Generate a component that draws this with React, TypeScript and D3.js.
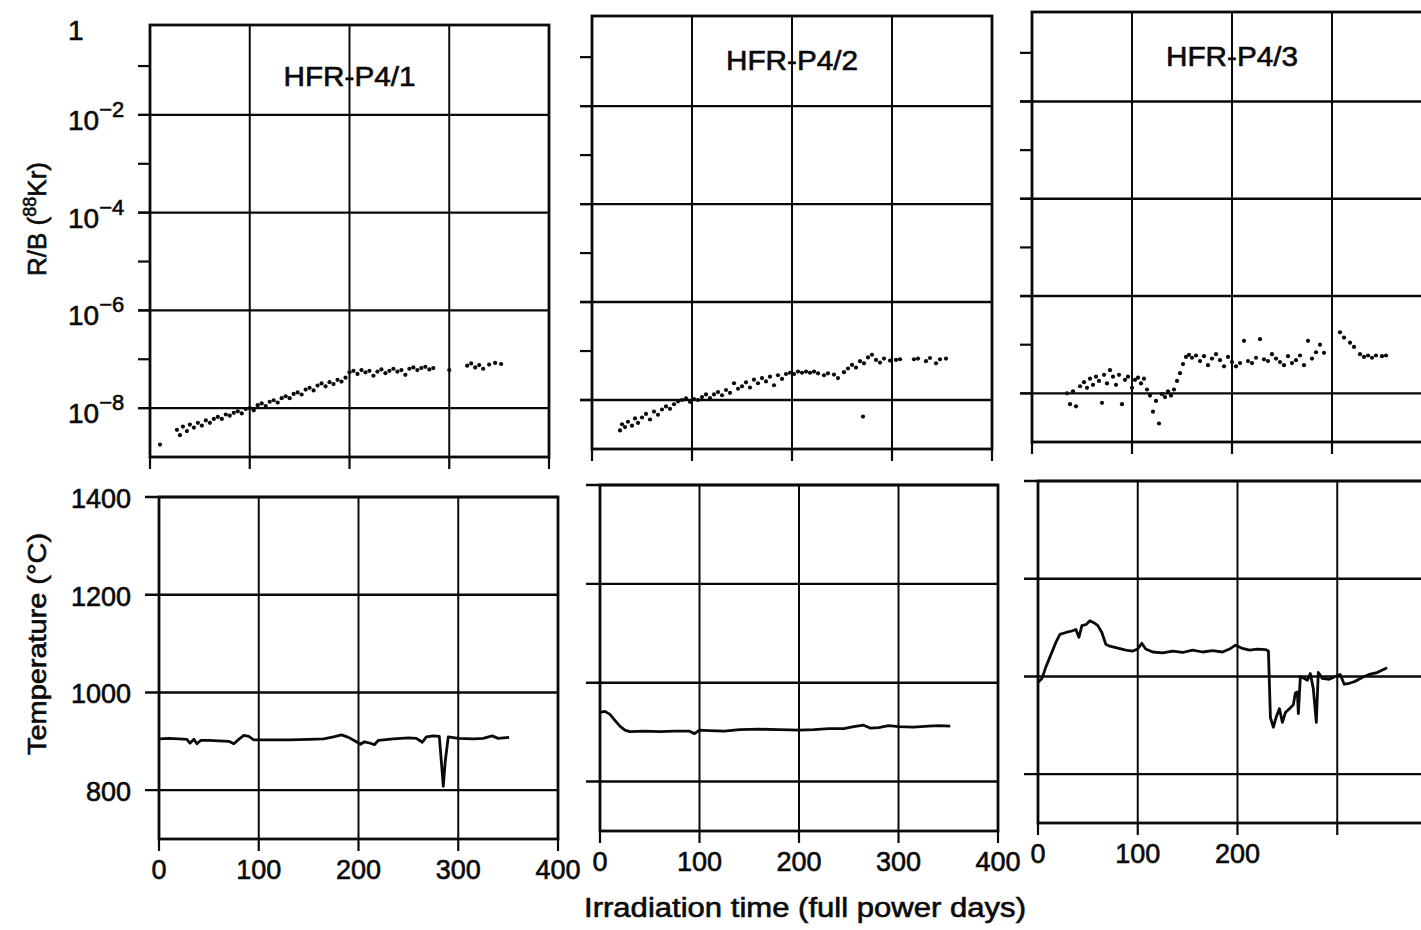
import React, { useRef, useEffect } from 'react';
import * as d3 from 'd3';

// fission gas release R/B (88Kr) vs irradiation time, one list per capsule
const release41: [number, number][] = [
  [10, 1.8e-9], [27, 3.6e-9], [30, 2.8e-9], [33, 4.2e-9], [37, 3.4e-9], [40, 4.6e-9], [44, 4e-9], [48, 5e-9],
  [52, 4.4e-9], [56, 5.6e-9], [60, 5e-9], [64, 6e-9], [68, 6.6e-9], [72, 6e-9], [76, 7.4e-9], [80, 7e-9],
  [84, 8e-9], [88, 8.6e-9], [92, 7.8e-9], [96, 9.6e-9], [100, 1.0e-8], [104, 9e-9], [108, 1.15e-8], [112, 1.25e-8],
  [116, 1.1e-8], [120, 1.35e-8], [124, 1.45e-8], [128, 1.3e-8], [132, 1.6e-8], [136, 1.75e-8], [140, 1.6e-8],
  [144, 1.95e-8], [148, 2.1e-8], [152, 1.9e-8], [156, 2.4e-8], [160, 2.6e-8], [164, 2.3e-8], [168, 2.9e-8],
  [172, 3.2e-8], [176, 2.8e-8], [180, 3.4e-8], [184, 3.1e-8], [188, 3.8e-8], [192, 3.5e-8], [196, 4.2e-8],
  [200, 5.4e-8], [204, 5.8e-8], [208, 5.0e-8], [212, 6.0e-8], [216, 5.4e-8], [220, 5.8e-8], [224, 4.6e-8],
  [228, 5.6e-8], [232, 6.2e-8], [236, 5.2e-8], [240, 5.8e-8], [244, 6.4e-8], [248, 5.6e-8], [252, 6.0e-8],
  [256, 4.8e-8], [260, 6.4e-8], [264, 6.8e-8], [268, 6.0e-8], [272, 6.6e-8], [276, 7.0e-8], [280, 6.2e-8],
  [284, 6.6e-8], [300, 6.0e-8], [318, 7.4e-8], [322, 8.2e-8], [326, 6.8e-8], [330, 7.6e-8], [334, 6.4e-8],
  [340, 7.8e-8], [346, 8.4e-8], [352, 8.0e-8],
];
const release42: [number, number][] = [
  [28, 2.4e-9], [30, 3.2e-9], [33, 2.8e-9], [36, 3.6e-9], [40, 3.0e-9], [43, 4.2e-9], [46, 3.4e-9], [50, 4.4e-9],
  [54, 5.2e-9], [58, 4.0e-9], [62, 5.8e-9], [66, 5.0e-9], [70, 6.4e-9], [74, 7.4e-9], [78, 6.6e-9], [82, 8.2e-9],
  [86, 9.4e-9], [90, 1.0e-8], [94, 1.08e-8], [98, 9.2e-9], [102, 1.05e-8], [106, 1.0e-8], [110, 1.15e-8],
  [114, 1.3e-8], [118, 1.1e-8], [122, 1.3e-8], [126, 1.45e-8], [130, 1.25e-8], [134, 1.6e-8], [138, 1.4e-8],
  [142, 2.2e-8], [146, 1.7e-8], [150, 1.9e-8], [154, 2.3e-8], [158, 1.8e-8], [162, 2.6e-8], [166, 2.2e-8],
  [170, 2.8e-8], [174, 2.4e-8], [178, 3.0e-8], [182, 2.0e-8], [186, 3.2e-8], [190, 2.7e-8], [194, 3.4e-8],
  [198, 3.6e-8], [202, 3.4e-8], [206, 3.8e-8], [210, 3.6e-8], [214, 3.8e-8], [218, 3.6e-8], [222, 3.8e-8],
  [226, 3.5e-8], [232, 3.2e-8], [236, 3.5e-8], [242, 3.3e-8], [246, 2.8e-8], [252, 3.7e-8], [256, 4.4e-8],
  [260, 5.2e-8], [264, 4.6e-8], [268, 6.2e-8], [271, 4.6e-9], [272, 5.6e-8], [276, 7.4e-8], [280, 8.4e-8],
  [284, 6.6e-8], [288, 5.8e-8], [292, 7.0e-8], [298, 6.4e-8], [304, 6.6e-8], [308, 6.8e-8], [322, 6.8e-8],
  [326, 7.0e-8], [334, 6.2e-8], [338, 7.2e-8], [344, 5.6e-8], [348, 6.8e-8], [354, 7.0e-8],
];
const release43: [number, number][] = [
  [35, 1.0e-8], [38, 6e-9], [41, 1.1e-8], [44, 5.4e-9], [48, 1.4e-8], [52, 1.7e-8], [55, 1.3e-8], [58, 2.0e-8],
  [61, 1.5e-8], [64, 2.2e-8], [67, 1.8e-8], [70, 6.4e-9], [72, 2.4e-8], [75, 1.6e-8], [78, 3.0e-8], [81, 2.2e-8],
  [84, 1.5e-8], [87, 2.4e-8], [90, 6e-9], [93, 1.9e-8], [96, 2.2e-8], [100, 1.3e-8], [103, 1.9e-8], [106, 2.1e-8],
  [109, 1.6e-8], [112, 2.0e-8], [115, 1.2e-8], [118, 9e-9], [121, 4.2e-9], [124, 7e-9], [127, 2.4e-9],
  [130, 9.6e-9], [133, 8.4e-9], [136, 1.1e-8], [139, 9e-9], [142, 1.2e-8], [145, 1.8e-8], [148, 2.6e-8],
  [151, 4e-8], [154, 5.6e-8], [157, 6.2e-8], [160, 5.4e-8], [164, 6e-8], [168, 4.6e-8], [172, 5.8e-8],
  [176, 3.8e-8], [180, 5.2e-8], [184, 6.4e-8], [188, 4.8e-8], [192, 3.6e-8], [196, 5.6e-8], [200, 4.4e-8],
  [204, 3.6e-8], [208, 4.2e-8], [212, 1.2e-7], [216, 4.6e-8], [220, 4.2e-8], [224, 5.4e-8], [228, 1.3e-7],
  [232, 5e-8], [236, 4.6e-8], [240, 6.4e-8], [244, 5.2e-8], [248, 4.4e-8], [252, 3.8e-8], [256, 5.8e-8],
  [260, 4.2e-8], [264, 4.8e-8], [268, 6e-8], [272, 3.8e-8], [276, 1.2e-7], [280, 5.2e-8], [284, 7e-8],
  [288, 1.0e-7], [292, 6.8e-8], [308, 1.8e-7], [312, 1.4e-7], [318, 1.1e-7], [322, 9e-8], [328, 6.4e-8],
  [332, 5.6e-8], [336, 6e-8], [340, 5.4e-8], [344, 6e-8], [350, 5.8e-8], [354, 6e-8],
];

// central temperature (°C) vs irradiation time
const temp41: [number, number][] = [
  [0, 905], [10, 906], [20, 905], [28, 904], [31, 896], [35, 904], [38, 895], [42, 902], [50, 902], [60, 901],
  [70, 900], [75, 895], [80, 904], [85, 912], [90, 910], [95, 903], [110, 903], [130, 903], [150, 904],
  [165, 905], [175, 909], [183, 913], [190, 908], [197, 900], [202, 894], [206, 899], [212, 896], [216, 893],
  [220, 902], [235, 905], [250, 907], [258, 906], [264, 898], [268, 909], [275, 911], [281, 910], [283, 860],
  [285, 808], [287, 860], [290, 909], [300, 906], [315, 905], [325, 906], [334, 911], [340, 906], [351, 908],
];
const temp42: [number, number][] = [
  [0, 940], [5, 942], [10, 936], [15, 924], [20, 912], [25, 904], [30, 901], [45, 902], [60, 901], [75, 902],
  [90, 902], [95, 897], [100, 904], [110, 903], [125, 902], [140, 905], [160, 906], [180, 905], [200, 904],
  [215, 905], [230, 907], [245, 907], [255, 911], [265, 914], [272, 908], [280, 909], [290, 913], [300, 911],
  [315, 910], [330, 912], [340, 913], [352, 912],
];
const temp43: [number, number][] = [
  [0, 988], [4, 996], [8, 1020], [12, 1040], [18, 1070], [22, 1086], [28, 1090], [34, 1093], [38, 1096],
  [41, 1080], [44, 1104], [48, 1106], [52, 1114], [56, 1110], [60, 1104], [64, 1090], [68, 1066], [72, 1062],
  [80, 1058], [88, 1054], [95, 1052], [100, 1056], [104, 1068], [108, 1056], [115, 1050], [125, 1048],
  [135, 1052], [145, 1049], [155, 1054], [165, 1050], [175, 1053], [185, 1050], [192, 1056], [198, 1064],
  [204, 1058], [212, 1054], [220, 1056], [228, 1055], [231, 1052], [233, 916], [236, 896], [239, 918],
  [242, 934], [245, 906], [248, 926], [252, 934], [256, 942], [258, 966], [260, 968], [261, 924], [263, 1000],
  [267, 996], [270, 992], [273, 1006], [276, 975], [279, 906], [281, 1008], [285, 996], [292, 994], [298, 1000],
  [303, 1004], [307, 984], [312, 986], [318, 990], [325, 998], [332, 1004], [340, 1008], [350, 1018],
];

const panelTitles = ['HFR-P4/1', 'HFR-P4/2', 'HFR-P4/3'];
const releaseSeries = [release41, release42, release43];
const tempSeries = [temp41, temp42, temp43];
const dayTicks = [0, 100, 200, 300, 400];
const dayTickLabels = [
  ['0', '100', '200', '300', '400'],
  ['0', '100', '200', '300', '400'],
  ['0', '100', '200', '', ''],
];
const decadeTicks = [1e-1, 1e-2, 1e-3, 1e-4, 1e-5, 1e-6, 1e-7, 1e-8];
const gridDecades = [1e-2, 1e-4, 1e-6, 1e-8];
const decadeExponents = ['−2', '−4', '−6', '−8'];
const tempTicks = [800, 1000, 1200, 1400];

// frames are slightly shifted per column, like the scanned original
const topFrames = [
  { left: 150, right: 549, top: 25, bottom: 457, titleY: 77 },
  { left: 592, right: 992, top: 16, bottom: 449, titleY: 61 },
  { left: 1032, right: 1432, top: 12, bottom: 442, titleY: 57 },
];
const bottomFrames = [
  { left: 159, right: 558, top: 497, bottom: 839 },
  { left: 600, right: 998, top: 485, bottom: 831 },
  { left: 1038, right: 1437, top: 481, bottom: 823 },
];

const W = 1421;
const H = 930;
const FONT = '"Liberation Sans", Arial, Helvetica, sans-serif';
const INK = '#0a0a0a';

// scanned print looks heavy: give text a thin outline
const heavy = (t: d3.Selection<SVGTextElement, any, any, any>) =>
  t.attr('fill', INK).attr('stroke', INK).attr('stroke-width', 0.6).attr('font-family', FONT);

export default function App() {
  const svgRef = useRef<SVGSVGElement>(null);

  useEffect(() => {
    const svg = d3.select(svgRef.current);
    svg.selectAll('*').remove();
    svg.append('rect').attr('width', W).attr('height', H).attr('fill', '#fff');

    topFrames.forEach((f, i) => {
      const x = d3.scaleLinear().domain([0, 400]).range([f.left, f.right]);
      const y = d3.scaleLog().domain([1e-9, Math.pow(10, -0.16)]).range([f.bottom, f.top]);
      const g = svg.append('g');

      // vertical grid
      g.selectAll('line.vg').data([100, 200, 300]).enter().append('line')
        .attr('x1', d => x(d)).attr('x2', d => x(d))
        .attr('y1', f.top).attr('y2', f.bottom)
        .attr('stroke', INK).attr('stroke-width', 2);
      // decade ticks on the left
      g.selectAll('line.lt').data(decadeTicks).enter().append('line')
        .attr('x1', f.left - 12).attr('x2', f.left)
        .attr('y1', d => y(d)).attr('y2', d => y(d))
        .attr('stroke', INK).attr('stroke-width', 2.2);
      // horizontal grid at even decades
      g.selectAll('line.hg').data(gridDecades).enter().append('line')
        .attr('x1', f.left - 12).attr('x2', f.right)
        .attr('y1', d => y(d)).attr('y2', d => y(d))
        .attr('stroke', INK).attr('stroke-width', 2.4);
      // ticks below the frame
      g.selectAll('line.bt').data(dayTicks).enter().append('line')
        .attr('x1', d => x(d)).attr('x2', d => x(d))
        .attr('y1', f.bottom).attr('y2', f.bottom + 12)
        .attr('stroke', INK).attr('stroke-width', 2.2);
      g.append('rect')
        .attr('x', f.left).attr('y', f.top)
        .attr('width', f.right - f.left).attr('height', f.bottom - f.top)
        .attr('fill', 'none').attr('stroke', INK).attr('stroke-width', 2.8);

      g.selectAll('circle').data(releaseSeries[i]).enter().append('circle')
        .attr('cx', d => x(d[0])).attr('cy', d => y(d[1]))
        .attr('r', 2.1).attr('fill', INK);

      heavy(g.append('text'))
        .attr('x', x(200)).attr('y', f.titleY)
        .attr('text-anchor', 'middle').attr('dominant-baseline', 'central')
        .attr('font-size', 27)
        .attr('textLength', 132).attr('lengthAdjust', 'spacingAndGlyphs')
        .text(panelTitles[i]);

      if (i === 0) {
        heavy(g.append('text'))
          .attr('x', 68).attr('y', f.top + 5)
          .attr('dominant-baseline', 'central')
          .attr('font-size', 28)
          .text('1');
        gridDecades.forEach((d, k) => {
          const t = heavy(g.append('text'))
            .attr('x', 68).attr('y', y(d) + 15)
            .attr('font-size', 28);
          t.append('tspan').text('10');
          t.append('tspan').attr('dy', -13).attr('font-size', 22).text(decadeExponents[k]);
        });
      }
    });

    bottomFrames.forEach((f, i) => {
      const x = d3.scaleLinear().domain([0, 400]).range([f.left, f.right]);
      const y = d3.scaleLinear().domain([700, 1400]).range([f.bottom, f.top]);
      const g = svg.append('g');

      g.selectAll('line.vg').data([100, 200, 300]).enter().append('line')
        .attr('x1', d => x(d)).attr('x2', d => x(d))
        .attr('y1', f.top).attr('y2', f.bottom)
        .attr('stroke', INK).attr('stroke-width', 2);
      g.selectAll('line.hg').data(tempTicks).enter().append('line')
        .attr('x1', f.left - 14).attr('x2', f.right)
        .attr('y1', d => y(d)).attr('y2', d => y(d))
        .attr('stroke', INK).attr('stroke-width', 2.4);
      g.selectAll('line.bt').data(dayTicks).enter().append('line')
        .attr('x1', d => x(d)).attr('x2', d => x(d))
        .attr('y1', f.bottom).attr('y2', f.bottom + 12)
        .attr('stroke', INK).attr('stroke-width', 2.2);
      g.append('rect')
        .attr('x', f.left).attr('y', f.top)
        .attr('width', f.right - f.left).attr('height', f.bottom - f.top)
        .attr('fill', 'none').attr('stroke', INK).attr('stroke-width', 2.8);

      const line = d3.line<[number, number]>().x(d => x(d[0])).y(d => y(d[1]));
      g.append('path').datum(tempSeries[i]).attr('d', line)
        .attr('fill', 'none').attr('stroke', INK).attr('stroke-width', 2.8)
        .attr('stroke-linejoin', 'round');

      g.selectAll('text.xl').data(dayTicks).enter().append('text')
        .call(heavy)
        .attr('x', d => x(d)).attr('y', f.bottom + 31)
        .attr('text-anchor', 'middle').attr('dominant-baseline', 'central')
        .attr('font-size', 27)
        .text((d, k) => dayTickLabels[i][k]);

      if (i === 0) {
        g.selectAll('text.yl').data(tempTicks).enter().append('text')
          .call(heavy)
          .attr('x', f.left - 28).attr('y', d => y(d) + 2)
          .attr('text-anchor', 'end').attr('dominant-baseline', 'central')
          .attr('font-size', 27)
          .text(d => String(d));
      }
    });

    // axis titles
    const rb = heavy(svg.append('text'))
      .attr('transform', 'translate(46,219) rotate(-90)')
      .attr('text-anchor', 'middle')
      .attr('font-size', 26);
    rb.append('tspan').text('R/B (');
    rb.append('tspan').attr('dy', -10).attr('font-size', 18).text('88');
    rb.append('tspan').attr('dy', 10).text('Kr)');

    heavy(svg.append('text'))
      .attr('transform', 'translate(46,644) rotate(-90)')
      .attr('text-anchor', 'middle')
      .attr('font-size', 26)
      .attr('textLength', 222).attr('lengthAdjust', 'spacingAndGlyphs')
      .text('Temperature (°C)');

    heavy(svg.append('text'))
      .attr('x', 805).attr('y', 908)
      .attr('text-anchor', 'middle').attr('dominant-baseline', 'central')
      .attr('font-size', 27)
      .attr('textLength', 442).attr('lengthAdjust', 'spacingAndGlyphs')
      .text('Irradiation time (full power days)');
  }, []);

  return (
    <div style={{ position: 'absolute', left: 0, top: 0, width: W, height: H, background: '#fff' }}>
      <svg ref={svgRef} width={W} height={H} style={{ display: 'block' }} />
    </div>
  );
}
